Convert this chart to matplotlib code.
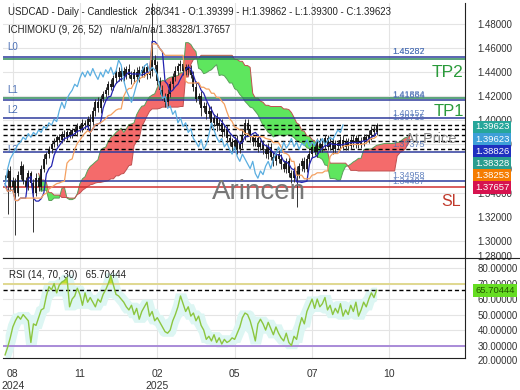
"""
USDCAD diario con Ichimoku (9, 26, 52) y RSI (14, 70, 30).
Cada vela representa dos sesiones, por eso los periodos del Ichimoku
se calculan a la mitad (5, 13, 26) y el desplazamiento es de 13 velas.
"""

import numpy as np
import pandas as pd
import matplotlib.pyplot as plt
import matplotlib.transforms as mtransforms

plt.rcParams['font.family'] = ['Liberation Sans', 'DejaVu Sans']

# historial previo a la ventana visible (solo alimenta la nube)
previo_alto = [1.378, 1.376, 1.379, 1.374, 1.372, 1.375, 1.370, 1.368, 1.371, 1.366,
               1.364, 1.367, 1.362, 1.356, 1.352, 1.355, 1.349, 1.346, 1.350, 1.344,
               1.347, 1.351, 1.348, 1.353, 1.357]
previo_bajo = [1.369, 1.368, 1.370, 1.365, 1.364, 1.366, 1.361, 1.359, 1.362, 1.357,
               1.355, 1.357, 1.352, 1.345, 1.341, 1.344, 1.338, 1.335, 1.339, 1.333,
               1.336, 1.340, 1.338, 1.343, 1.347]

# cierres visibles (ago-2024 .. sep-2025)
cierres = [1.352, 1.358, 1.345, 1.350, 1.340, 1.355, 1.362, 1.350, 1.345, 1.356,
           1.348, 1.340, 1.352, 1.345, 1.360, 1.368, 1.372, 1.376, 1.380, 1.382,
           1.386, 1.384, 1.389, 1.386, 1.390, 1.388, 1.392, 1.390, 1.395, 1.393,
           1.398, 1.396, 1.401, 1.399, 1.408, 1.415, 1.410, 1.418, 1.422, 1.425,
           1.430, 1.428, 1.435, 1.440, 1.436, 1.441, 1.437, 1.443, 1.438, 1.434,
           1.440, 1.436, 1.442, 1.439, 1.444, 1.438, 1.441, 1.450, 1.446, 1.433,
           1.425, 1.420, 1.415, 1.422, 1.430, 1.436, 1.441, 1.445, 1.447, 1.441,
           1.444, 1.442, 1.438, 1.428, 1.418, 1.420, 1.410, 1.412, 1.405, 1.408,
           1.398, 1.402, 1.395, 1.398, 1.390, 1.393, 1.385, 1.382, 1.378, 1.384,
           1.376, 1.380, 1.388, 1.398, 1.392, 1.386, 1.382, 1.385, 1.378, 1.381,
           1.376, 1.372, 1.378, 1.370, 1.366, 1.372, 1.368, 1.364, 1.360, 1.366,
           1.356, 1.352, 1.358, 1.355, 1.362, 1.366, 1.360, 1.368, 1.372, 1.378,
           1.374, 1.382, 1.377, 1.380, 1.385, 1.378, 1.382, 1.376, 1.381, 1.379,
           1.384, 1.378, 1.382, 1.379, 1.384, 1.381, 1.385, 1.380, 1.383, 1.386,
           1.384, 1.388, 1.392, 1.390, 1.39623]

# mechas en milésimas por encima / por debajo del cuerpo
mecha_sup = [3, 2, 4, 3, 2, 3, 4, 2, 3, 3, 2, 3, 4, 2, 3, 4, 2, 3, 2, 3,
             2, 3, 2, 3, 2, 3, 2, 3, 3, 2, 3, 2, 3, 4, 3, 3, 4, 3, 2, 3,
             3, 4, 3, 2, 4, 3, 3, 2, 4, 3, 3, 4, 3, 3, 2, 4, 3, 47, 4, 3,
             3, 4, 3, 4, 3, 3, 4, 3, 3, 4, 3, 3, 4, 3, 5, 3, 4, 3, 3, 4,
             4, 3, 4, 3, 3, 4, 3, 4, 3, 3, 4, 3, 4, 3, 3, 4, 3, 3, 4, 3,
             3, 4, 3, 3, 4, 3, 3, 4, 3, 3, 4, 3, 3, 4, 3, 3, 4, 3, 3, 3,
             4, 3, 3, 4, 3, 3, 3, 4, 3, 3, 3, 4, 3, 3, 3, 4, 3, 3, 3, 3,
             3, 4, 3, 3, 2]
mecha_inf = [3, 30, 4, 3, 35, 3, 4, 3, 4, 3, 3, 33, 3, 4, 3, 3, 4, 3, 3, 2,
             3, 2, 3, 3, 2, 3, 3, 2, 3, 3, 3, 3, 4, 24, 3, 4, 3, 4, 3, 3,
             4, 3, 3, 4, 3, 3, 4, 3, 3, 4, 3, 3, 4, 3, 3, 4, 3, 4, 3, 4,
             3, 3, 4, 3, 3, 4, 3, 3, 4, 3, 3, 4, 3, 4, 3, 4, 6, 3, 4, 3,
             4, 3, 4, 3, 4, 3, 4, 3, 4, 3, 4, 3, 3, 4, 3, 4, 3, 3, 4, 3,
             4, 3, 4, 3, 4, 3, 3, 4, 3, 4, 3, 4, 3, 27, 3, 4, 3, 3, 4, 3,
             3, 4, 3, 3, 4, 3, 3, 4, 3, 3, 4, 3, 3, 4, 3, 3, 4, 3, 3, 4,
             3, 3, 4, 3, 2]

rsi = [24, 29, 35, 42, 46, 49, 47, 50, 48, 46, 32, 44, 43, 48, 53, 54, 62, 68, 66, 70,
       64, 69, 71, 72, 74, 55, 60, 62, 67, 63, 56, 64, 58, 61, 58, 55, 60, 58, 63, 66,
       70, 75, 69, 63, 62, 60, 58, 55, 53, 56, 50, 54, 47, 52, 55, 58, 49, 52, 46, 48,
       45, 42, 39, 38, 40, 46, 50, 55, 62, 57, 52, 55, 49, 51, 46, 49, 43, 40, 34, 36,
       33, 37, 32, 35, 31, 34, 32, 33, 35, 34, 38, 42, 48, 51, 50, 46, 40, 33, 44, 47,
       44, 40, 45, 41, 37, 42, 38, 35, 33, 38, 32, 30, 36, 34, 42, 48, 44, 52, 56, 60,
       54, 60, 55, 57, 61, 53, 56, 50, 54, 51, 57, 49, 53, 50, 56, 52, 58, 49, 53, 58,
       55, 60, 64, 61, 65.70444]

etiquetas_x = ["08\n2024", "11", "02\n2025", "05", "07", "10"]
posiciones_x = [3, 29, 59, 89, 119, 149]

# niveles horizontales
niveles_azul = [1.45282, 1.41664, 1.40157, 1.37375, 1.34958]
niveles_verde = [1.45087, 1.41884]
nivel_sl = 1.34487
niveles_guion = [1.39623, 1.39250, 1.38826, 1.38328, 1.37657]
etiquetas_l = [("L0", 1.4609), ("L1", 1.4252), ("L2", 1.4086), ("L3", 1.3754)]
etiquetas_nivel = [("1.45282", 1.4568), ("1.45287", 1.4571), ("1.41884", 1.4215),
                   ("1.41664", 1.4208), ("1.40157", 1.4061), ("1.39715", 1.4020),
                   ("1.37375", 1.3796), ("1.34958", 1.3539), ("1.34487", 1.3489)]
cajas = [("1.39623", "#26a69a"), ("1.39623", "#3d9fd8"), ("1.38826", "#1f2fbf"),
         ("1.38328", "#2a9d8f"), ("1.38253", "#f57c00"), ("1.37657", "#d6134f")]

# ---------------------------------------------------------------
cierres = np.array(cierres)
aperturas = np.r_[cierres[0], cierres[:-1]]
altos = np.maximum(aperturas, cierres) + np.array(mecha_sup) / 1000
bajos = np.minimum(aperturas, cierres) - np.array(mecha_inf) / 1000
n = len(cierres)
npre = len(previo_alto)

alto_tot = pd.Series(np.r_[previo_alto, altos])
bajo_tot = pd.Series(np.r_[previo_bajo, bajos])
x_tot = np.arange(-npre, n)


def medio(p):
    return (alto_tot.rolling(p).max() + bajo_tot.rolling(p).min()) / 2


tenkan = medio(5).values
kijun = medio(13).values
span_a = (tenkan + kijun) / 2
span_b = medio(26).values
x_nube = x_tot + 13

fig = plt.figure(figsize=(5.2, 3.9), dpi=100)
ax = fig.add_axes([0.0058, 0.3385, 0.8885, 0.6538])
ax_rsi = fig.add_axes([0.0058, 0.0821, 0.8885, 0.2564], sharex=ax)

ax.set_xlim(-0.8, 178.3)
ax.set_ylim(1.2858, 1.4974)
for a in (ax, ax_rsi):
    a.set_xticks(posiciones_x)
    a.grid(True, color="#e4e4e4", lw=0.8)
    a.set_axisbelow(True)
    a.yaxis.tick_right()
    a.tick_params(length=0, labelsize=7, colors="#333333", pad=9)
    for s in ("left", "top"):
        a.spines[s].set_visible(False)
    a.spines["right"].set_color("#222222")
    a.spines["bottom"].set_color("#222222")
ax.tick_params(labelbottom=False)
ax.set_yticks(np.arange(1.30, 1.49, 0.02))
ax.yaxis.set_major_formatter(plt.FormatStrFormatter("%.5f"))

# nube
ok = ~np.isnan(span_b)
xa, ya, yb = x_nube[ok], span_a[ok], span_b[ok]
ax.fill_between(xa, ya, yb, where=ya >= yb, interpolate=True,
                color="#f46b6b", lw=0, zorder=2)
ax.fill_between(xa, ya, yb, where=ya < yb, interpolate=True,
                color="#5ee65e", lw=0, zorder=2)
ax.plot(xa, ya, color="#5aa05a", lw=0.7, zorder=2)
ax.plot(xa, yb, color="#c05050", lw=0.7, zorder=2)

# líneas
for v in niveles_azul:
    ax.axhline(v, color="#2e3a9c", lw=1.1, zorder=3)
for v in niveles_verde:
    ax.axhline(v, color="#2e8b57", lw=1.1, zorder=3)
ax.axhline(nivel_sl, color="#d03030", lw=1.1, zorder=3)
for v in niveles_guion:
    ax.axhline(v, color="black", lw=1.0, ls=(0, (3, 2)), zorder=3)

# velas
xv = np.arange(n)
ax.vlines(xv, bajos, altos, color="#333333", lw=0.7, zorder=4)
ax.vlines(xv, np.minimum(aperturas, cierres), np.maximum(aperturas, cierres),
          color="#111111", lw=1.3, zorder=4)

vis = x_tot >= 0
ax.plot(x_tot[vis], tenkan[vis], color="#2424b0", lw=0.9, zorder=5)
ax.plot(x_tot[vis], kijun[vis], color="#f4a060", lw=0.9, zorder=5)
ax.plot(xv[13:] - 13, cierres[13:], color="#5aaee0", lw=0.9, zorder=5)

# textos del panel principal
for t, v in etiquetas_l:
    ax.text(1, v, t, color="#4a6fb5", fontsize=7, va="center")
for t, v in etiquetas_nivel:
    ax.text(150, v, t, color="#4a6fb5", fontsize=6.5, alpha=0.85, va="center")
ax.text(165.5, 1.4401, "TP2", color="#2a9a3a", fontsize=12.5, va="center")
ax.text(166, 1.4076, "TP1", color="#2a9a3a", fontsize=12, va="center")
ax.text(169, 1.3323, "SL", color="#c0392b", fontsize=11.5, va="center")
ax.text(155, 1.3848, "At Price", color="#8a8a8a", fontsize=10.5, va="center",
        zorder=6)
ax.text(80, 1.3406, "Arincen", color="#777777", fontsize=20, va="center", zorder=6)

# cajas de precio en el eje derecho
for k, (t, c) in enumerate(cajas):
    off = mtransforms.offset_copy(ax.get_yaxis_transform(), fig=fig,
                                  y=-1.5 - k * 8.7, units="points")
    ax.text(1.022, 1.39623, t, transform=off, fontsize=6.8, color="white",
            va="center", ha="left", zorder=10, clip_on=False,
            bbox=dict(boxstyle="square,pad=0.2", fc=c, ec="none"))

fig.text(0.016, 0.969, "USDCAD - Daily - Candlestick   288/341 - O:1.39399 - "
         "H:1.39862 - L:1.39300 - C:1.39623", fontsize=6.9, color="#222222", va="center")
fig.text(0.016, 0.923, "ICHIMOKU (9, 26, 52)   n/a/n/a/n/a/1.38328/1.37657",
         fontsize=6.9, color="#222222", va="center")

# RSI
ax_rsi.set_ylim(22, 86.5)
ax_rsi.set_yticks(np.arange(30, 90, 10))
ax_rsi.yaxis.set_major_formatter(plt.FormatStrFormatter("%.5f"))
rsi = np.array(rsi, dtype=float)
r = pd.Series(rsi)
ax_rsi.fill_between(xv, r.rolling(5, center=True, min_periods=1).min() - 2,
                    r.rolling(5, center=True, min_periods=1).max() + 2,
                    color="#ddf6f3", lw=0, zorder=1)
ax_rsi.axhline(70, color="#e0d890", lw=1.4, zorder=2)
ax_rsi.axhline(30, color="#a98bd8", lw=1.4, zorder=2)
ax_rsi.axhline(rsi[-1], color="black", lw=1.0, ls=(0, (3, 2)), zorder=2)
ax_rsi.fill_between(xv, 70, rsi, where=rsi > 70, interpolate=True,
                    color="#c8e030", lw=0, zorder=3)
ax_rsi.plot(xv, rsi, color="#8cc63f", lw=1.0, zorder=4)
ax_rsi.text(0.012, 0.8, "RSI (14, 70, 30)   65.70444", transform=ax_rsi.transAxes,
            fontsize=7, color="#222222")
ax_rsi.text(1.022, rsi[-1], "65.70444", transform=ax_rsi.get_yaxis_transform(),
            fontsize=6.8, color="#225500", va="center", ha="left", clip_on=False,
            bbox=dict(boxstyle="square,pad=0.2", fc="#66dd22", ec="none"))

# etiquetas recortadas en los bordes de los paneles
borde = mtransforms.offset_copy(ax.get_yaxis_transform(), fig=fig, x=9, units="points")
ax.text(1.0, 1.2866, "1.28000", transform=borde, fontsize=7, color="#333333",
        va="center", clip_on=False)
borde_rsi = mtransforms.offset_copy(ax_rsi.get_yaxis_transform(), fig=fig, x=9,
                                    units="points")
ax_rsi.text(1.0, 20, "20.00000", transform=borde_rsi, fontsize=7, color="#333333",
            va="center", clip_on=False)
ax_rsi.set_xticklabels(etiquetas_x)
ax_rsi.tick_params(axis="x", pad=8, labelsize=7.5)

fig.add_artist(plt.Line2D([0.0058, 1.0], [0.3385, 0.3385], color="#222222", lw=0.8))

fig.savefig("out.png", dpi=100)
